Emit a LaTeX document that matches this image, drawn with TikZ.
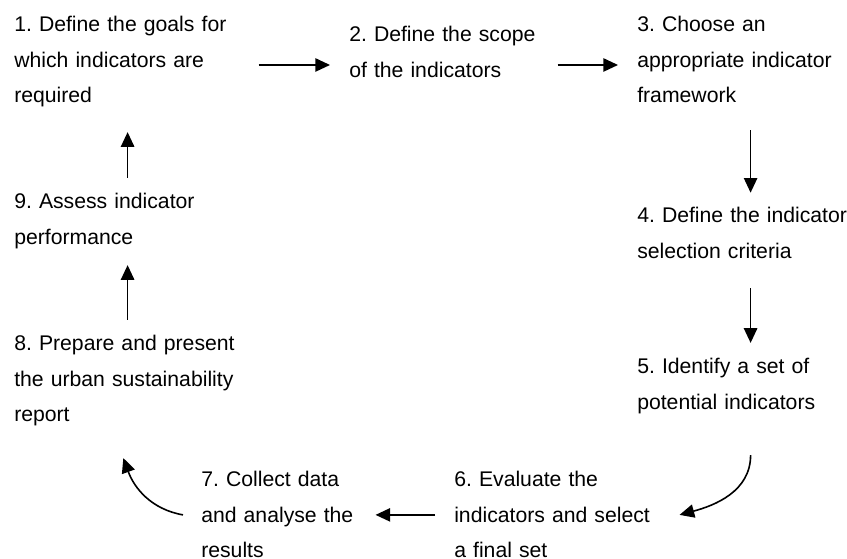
\documentclass[tikz,border=0pt]{standalone}
\usepackage{fontspec}
\setmainfont{Liberation Sans}
\usetikzlibrary{arrows.meta}
\frenchspacing

\begin{document}
\begin{tikzpicture}[x=0.75pt, y=0.75pt,
    stepbox/.style={anchor=base west, inner sep=0pt, align=left, text width=170pt,
      font=\fontsize{15.9pt}{26.6pt}\selectfont},
    flow/.style={-{Triangle[length=11pt, width=10pt]}, line width=1.2pt}]
  \useasboundingbox (0, 0) rectangle (847, -559);

  % top row
  \node [stepbox] (s1) at (14, -32) {1. Define the goals for\\which indicators are\\required};
  \node [stepbox, text width=142.5pt] (s2) at (349, -42) {2. Define the scope\\of the indicators};
  \node [stepbox] (s3) at (637, -32) {3. Choose an\\appropriate indicator\\framework};

  % right column
  \node [stepbox] (s4) at (637, -223) {4. Define the indicator\\selection criteria};
  \node [stepbox] (s5) at (637, -374) {5. Identify a set of\\potential indicators};

  % bottom row
  \node [stepbox, text width=150pt] (s6) at (454, -487) {6. Evaluate the\\indicators and select\\a final set};
  \node [stepbox, text width=117pt] (s7) at (201, -487) {7. Collect data\\and analyse the\\results};

  % left column
  \node [stepbox, text width=176pt] (s8) at (14, -351) {8. Prepare and present\\the urban sustainability\\report};
  \node [stepbox] (s9) at (14, -209) {9. Assess indicator\\performance};

  \coordinate (r1) at ([yshift=-2.25pt]s1.east);
  \draw [flow, shorten <=13pt, shorten >=14.25pt] (r1) -- (r1 -| s2.west);
  \draw [flow, shorten <=13.5pt, shorten >=14.25pt] (r1 -| s2.east) -- (r1 -| s3.west);
  \draw [flow, shorten <=20pt, shorten >=11pt] (s3.south) -- (s4.north);
  \draw [flow, shorten <=22pt, shorten >=11.6pt] (s4.south) -- (s5.north);
  \draw [flow] ([yshift=-30.75pt]s5.south) to [out=-90, in=15] ([xshift=18.75pt]s6.east);
  \draw [flow, shorten <=14.25pt, shorten >=13.5pt] (s6.west) -- (s6.west -| s7.east);
  \draw [flow] ([xshift=-13.5pt]s7.west) to [out=170, in=-70] ([xshift=-6.2pt, yshift=-23.6pt]s8.south);
  \draw [flow, shorten <=11.6pt, shorten >=12pt] (s8.north -| s9.south) -- (s9.south);
  \draw [flow, shorten <=11.6pt, shorten >=18.4pt] (s9.north) -- (s1.south);
\end{tikzpicture}
\end{document}
